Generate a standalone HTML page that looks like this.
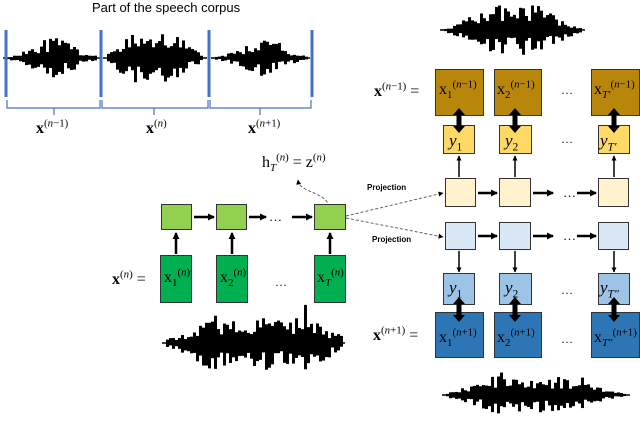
<!DOCTYPE html>
<html><head><meta charset="utf-8"><style>
body{margin:0;width:640px;height:422px;background:#fff;position:relative;overflow:hidden;font-family:"Liberation Serif",serif}
.t{position:absolute;white-space:nowrap;line-height:1}
.b{position:absolute;box-sizing:border-box;border:1.5px solid #333}
sup,sub{font-size:68%;line-height:0}
.m{font-size:16px}
.s{font-family:"Liberation Sans",sans-serif}
</style></head><body>
<svg id="sv" width="640" height="422" style="position:absolute;left:0;top:0">
<defs>
<marker id="a" markerUnits="userSpaceOnUse" markerWidth="7" markerHeight="7" refX="6" refY="3.5" orient="auto"><path d="M0,0 L7,3.5 L0,7z" fill="#000"/></marker>
<marker id="s" markerUnits="userSpaceOnUse" markerWidth="5" markerHeight="5" refX="4.5" refY="2.5" orient="auto"><path d="M0,0 L5,2.5 L0,5z" fill="#000"/></marker>
</defs>
<g id="wv"></g>
<g stroke="#4472c4" stroke-width="3">
<line x1="6" y1="30" x2="6" y2="97"/><line x1="101" y1="30" x2="101" y2="97"/>
<line x1="209" y1="30" x2="209" y2="97"/><line x1="312" y1="30" x2="312" y2="97"/>
</g>
<g stroke="#4472c4" stroke-width="1.2" fill="none">
<path d="M7,100 v8 h93 v-8 M54,108 v7"/>
<path d="M102,100 v8 h106 v-8 M154,108 v7"/>
<path d="M210,100 v8 h101 v-8 M260,108 v7"/>
</g>
<g stroke="#000" stroke-width="2.5" marker-end="url(#a)">
<line x1="176" y1="254" x2="176" y2="233"/><line x1="232" y1="254" x2="232" y2="233"/><line x1="330" y1="254" x2="330" y2="233"/>
<line x1="194" y1="217" x2="214" y2="217"/><line x1="249" y1="217" x2="266" y2="217"/><line x1="292" y1="217" x2="312" y2="217"/>
<line x1="478" y1="193" x2="497" y2="193"/><line x1="533" y1="193" x2="553" y2="193"/><line x1="577" y1="193" x2="596" y2="193"/>
<line x1="478" y1="236" x2="497" y2="236"/><line x1="533" y1="236" x2="553" y2="236"/><line x1="577" y1="236" x2="596" y2="236"/>
</g>
<g stroke="#000" stroke-width="1.5" marker-end="url(#s)">
<line x1="459" y1="177" x2="459" y2="156"/><line x1="515" y1="177" x2="515" y2="156"/><line x1="614" y1="177" x2="614" y2="156"/>
<line x1="459" y1="251" x2="459" y2="272"/><line x1="515" y1="251" x2="515" y2="272"/><line x1="614" y1="251" x2="614" y2="272"/>
</g>
<g stroke="#555" stroke-width="0.9" stroke-dasharray="3,2" fill="none">
<line x1="346" y1="216" x2="443" y2="193" marker-end="url(#s)"/>
<line x1="346" y1="218" x2="443" y2="237" marker-end="url(#s)"/>
<path d="M330,212 C330,190 300,195 298,180" marker-end="url(#s)"/>
</g>
<g font-family="Liberation Serif" font-size="13">
<text x="269" y="221">…</text><text x="563" y="197">…</text><text x="563" y="240">…</text>
</g>
</svg>
<div class="t s" style="left:92px;top:1px;font-size:13px">Part of the speech corpus</div>
<div class="t m" style="left:36px;top:121px"><b>x</b><sup>(<i>n</i>−1)</sup></div>
<div class="t m" style="left:146px;top:121px"><b>x</b><sup>(<i>n</i>)</sup></div>
<div class="t m" style="left:248px;top:121px"><b>x</b><sup>(<i>n</i>+1)</sup></div>
<div class="b" style="left:435px;top:69px;width:49px;height:47px;background:#b8860b"></div>
<div class="b" style="left:494px;top:69px;width:48px;height:47px;background:#b8860b"></div>
<div class="b" style="left:591px;top:69px;width:49px;height:47px;background:#b8860b"></div>
<div class="b" style="left:443px;top:125px;width:32px;height:29px;background:#ffd966"></div>
<div class="b" style="left:499px;top:125px;width:33px;height:29px;background:#ffd966"></div>
<div class="b" style="left:598px;top:125px;width:32px;height:29px;background:#ffd966"></div>
<div class="b" style="left:445px;top:178px;width:31px;height:29px;background:#fff2cc"></div>
<div class="b" style="left:499px;top:178px;width:32px;height:29px;background:#fff2cc"></div>
<div class="b" style="left:598px;top:178px;width:31px;height:29px;background:#fff2cc"></div>
<div class="b" style="left:445px;top:222px;width:31px;height:28px;background:#dae8f5"></div>
<div class="b" style="left:499px;top:222px;width:32px;height:28px;background:#dae8f5"></div>
<div class="b" style="left:598px;top:222px;width:31px;height:28px;background:#dae8f5"></div>
<div class="b" style="left:443px;top:273px;width:32px;height:32px;background:#9dc3e6"></div>
<div class="b" style="left:499px;top:273px;width:33px;height:32px;background:#9dc3e6"></div>
<div class="b" style="left:598px;top:273px;width:32px;height:32px;background:#9dc3e6"></div>
<div class="b" style="left:435px;top:312px;width:49px;height:46px;background:#2e75b6"></div>
<div class="b" style="left:494px;top:312px;width:48px;height:46px;background:#2e75b6"></div>
<div class="b" style="left:591px;top:312px;width:49px;height:46px;background:#2e75b6"></div>
<div class="b" style="left:161px;top:204px;width:31px;height:26px;background:#92d050"></div>
<div class="b" style="left:216px;top:204px;width:31px;height:26px;background:#92d050"></div>
<div class="b" style="left:314px;top:204px;width:32px;height:26px;background:#92d050"></div>
<div class="b" style="left:160px;top:255px;width:32px;height:48px;background:#00b050"></div>
<div class="b" style="left:216px;top:255px;width:32px;height:48px;background:#00b050"></div>
<div class="b" style="left:314px;top:255px;width:32px;height:48px;background:#00b050"></div>
<svg width="640" height="422" style="position:absolute;left:0;top:0"><g id="dbl" fill="#000"></g></svg>
<div class="t m" style="left:374px;top:84px"><b>x</b><sup>(<i>n</i>−1)</sup> =</div>
<div class="t m" style="left:439px;top:82px">x<sub>1</sub><sup>(<i>n</i>−1)</sup></div>
<div class="t m" style="left:497px;top:82px">x<sub>2</sub><sup>(<i>n</i>−1)</sup></div>
<div class="t m" style="left:594px;top:82px">x<sub><i>T′</i></sub><sup>(<i>n</i>−1)</sup></div>
<div class="t" style="left:561px;top:84px;font-size:12px">…</div>
<div class="t m" style="left:449px;top:132px;font-size:17px"><i>y</i><sub>1</sub></div>
<div class="t m" style="left:505px;top:132px;font-size:17px"><i>y</i><sub>2</sub></div>
<div class="t m" style="left:600px;top:132px;font-size:17px"><i>y</i><sub><i>T′</i></sub></div>
<div class="t" style="left:561px;top:133px;font-size:12px">…</div>
<div class="t s" style="left:367px;top:184px;font-size:8px;font-weight:bold">Projection</div>
<div class="t s" style="left:372px;top:236px;font-size:8px;font-weight:bold">Projection</div>
<div class="t m" style="left:449px;top:279px;font-size:17px"><i>y</i><sub>1</sub></div>
<div class="t m" style="left:505px;top:279px;font-size:17px"><i>y</i><sub>2</sub></div>
<div class="t m" style="left:600px;top:279px;font-size:17px"><i>y</i><sub><i>T″</i></sub></div>
<div class="t" style="left:561px;top:284px;font-size:12px">…</div>
<div class="t m" style="left:373px;top:328px"><b>x</b><sup>(<i>n</i>+1)</sup> =</div>
<div class="t m" style="left:439px;top:330px">x<sub>1</sub><sup>(<i>n</i>+1)</sup></div>
<div class="t m" style="left:497px;top:330px">x<sub>2</sub><sup>(<i>n</i>+1)</sup></div>
<div class="t m" style="left:594px;top:330px">x<sub><i>T″</i></sub><sup>(<i>n</i>+1)</sup></div>
<div class="t" style="left:561px;top:333px;font-size:12px">…</div>
<div class="t m" style="left:262px;top:155px">h<sub><i>T</i></sub><sup>(<i>n</i>)</sup> = z<sup>(<i>n</i>)</sup></div>
<div class="t m" style="left:112px;top:272px"><b>x</b><sup>(<i>n</i>)</sup> =</div>
<div class="t m" style="left:164px;top:270px">x<sub>1</sub><sup>(<i>n</i>)</sup></div>
<div class="t m" style="left:220px;top:270px">x<sub>2</sub><sup>(<i>n</i>)</sup></div>
<div class="t m" style="left:317px;top:270px">x<sub><i>T</i></sub><sup>(<i>n</i>)</sup></div>
<div class="t" style="left:275px;top:276px;font-size:12px">…</div>
<script>
(function(){
var g=document.getElementById('wv'),s=11,h='';
function r(){s=(s*16807)%2147483647;return s/2147483647;}
function w(x0,x1,cy,amp,env,step){
 h+='<line x1="'+x0+'" y1="'+cy+'" x2="'+x1+'" y2="'+cy+'" stroke="#000" stroke-width="1.5"/>';
 for(var x=x0+4;x<x1-4;x+=step){var t=(x-x0)/(x1-x0);var e=env(t);var up=amp*e*(0.3+0.7*r());var dn=amp*e*(0.3+0.7*r());
 if(r()<0.05){up*=1.4;}
 h+='<rect x="'+x+'" y="'+(cy-up)+'" width="'+step+'" height="'+(up+dn)+'" fill="#000"/>';}
}
function hump(c,wd){return function(t){var v=0;for(var i=0;i<c.length;i++){v=Math.max(v,Math.exp(-Math.pow((t-c[i])/wd,2)));}return v;};}
w(3,100,58,20,hump([0.5],0.3),3);
w(103,207,58,28,hump([0.35,0.6],0.25),3);
w(211,310,58,18,hump([0.5],0.3),3);
w(440,585,30,26,hump([0.4,0.6],0.25),3);
w(162,345,343,28,hump([0.3,0.55,0.75],0.2),3);
w(442,630,395,20,hump([0.35,0.6],0.24),3);
g.innerHTML=h;
var d='',xs=[459,515,614],ys=[[108,133],[297,322]];
xs.forEach(function(x){ys.forEach(function(p){var a=p[0],b=p[1];
d+='<polygon points="'+(x-6)+','+(a+7)+' '+x+','+a+' '+(x+6)+','+(a+7)+' '+(x+2.5)+','+(a+7)+' '+(x+2.5)+','+(b-7)+' '+(x+6)+','+(b-7)+' '+x+','+b+' '+(x-6)+','+(b-7)+' '+(x-2.5)+','+(b-7)+' '+(x-2.5)+','+(a+7)+'"/>';});});
document.getElementById('dbl').innerHTML=d;
})();
</script>
</body></html>
